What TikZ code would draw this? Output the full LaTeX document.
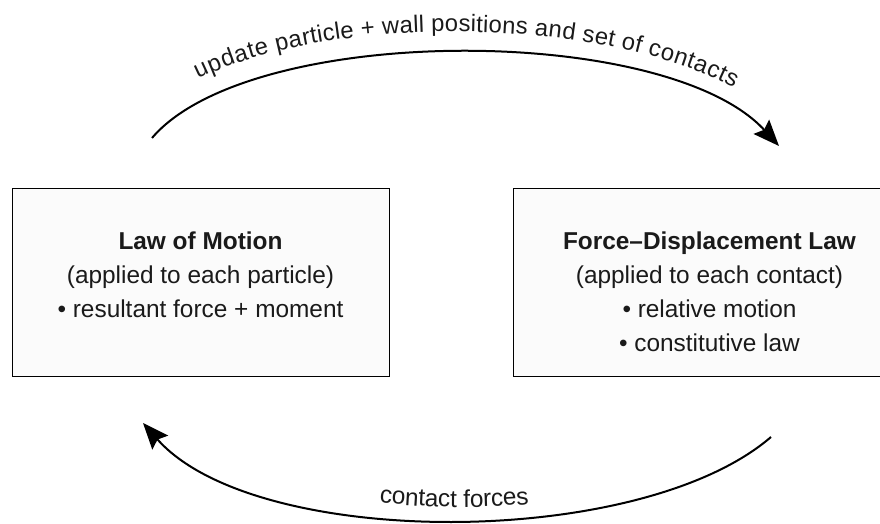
\documentclass[tikz,border=0pt]{standalone}
\usepackage{fontspec}
\setmainfont{Liberation Sans}
\usetikzlibrary{arrows.meta,decorations.text}
\definecolor{boxfill}{HTML}{FBFBFB}
\definecolor{inkgray}{HTML}{1A1A1A}
\newcommand\labelfont{\fontsize{12.2}{17}\selectfont}
\newcommand\arcfont{\fontsize{11.9}{17}\selectfont}
\begin{document}
\begin{tikzpicture}[x=0.5pt,y=0.5pt,
  lawbox/.style={draw=black, line width=0.5pt, fill=boxfill, minimum width=188.5pt, minimum height=94pt, inner sep=0pt},
  lawtext/.style={align=center, text=inkgray, font=\labelfont, inner sep=0pt},
  loop/.style={draw=black, line width=1pt, -{Stealth[length=13pt,width=10.5pt,inset=2pt]}}]
\useasboundingbox (0,0) rectangle (880,524);

\node[lawbox] (motion) at (200.5,241) {};
\node[lawbox, minimum width=196.5pt] (force) at (709.5,241) {};
\node[lawtext] (motiontext) at (200.5,249.5) {\textbf{Law of Motion}\\(applied to each particle)\\• resultant force + moment};
\node[lawtext] (forcetext) at (709.5,232.5) {\textbf{Force--Displacement Law}\\(applied to each contact)\\• relative motion\\• constitutive law};

\coordinate (upstart) at (152,386);
\coordinate (upend) at (779,378);
\coordinate (downstart) at (771,87);
\coordinate (downend) at (143,101);

\path[loop] (upstart) .. controls (250,501) and (666,501) .. (upend);
\path[loop] (downstart) .. controls (640,-26) and (255,-26) .. (downend);

\path[decorate, decoration={text along path, text align=center, raise=10.5pt,
  text={|\arcfont\color{inkgray}|update particle + wall positions and set of contacts}}]
  (upstart) .. controls (250,501) and (666,501) .. (upend);
\path[decorate, decoration={text along path, text align=center, raise=6.5pt,
  text={|\labelfont\color{inkgray}|contact forces}}]
  (downend) .. controls (255,-26) and (640,-26) .. (downstart);
\end{tikzpicture}
\end{document}
